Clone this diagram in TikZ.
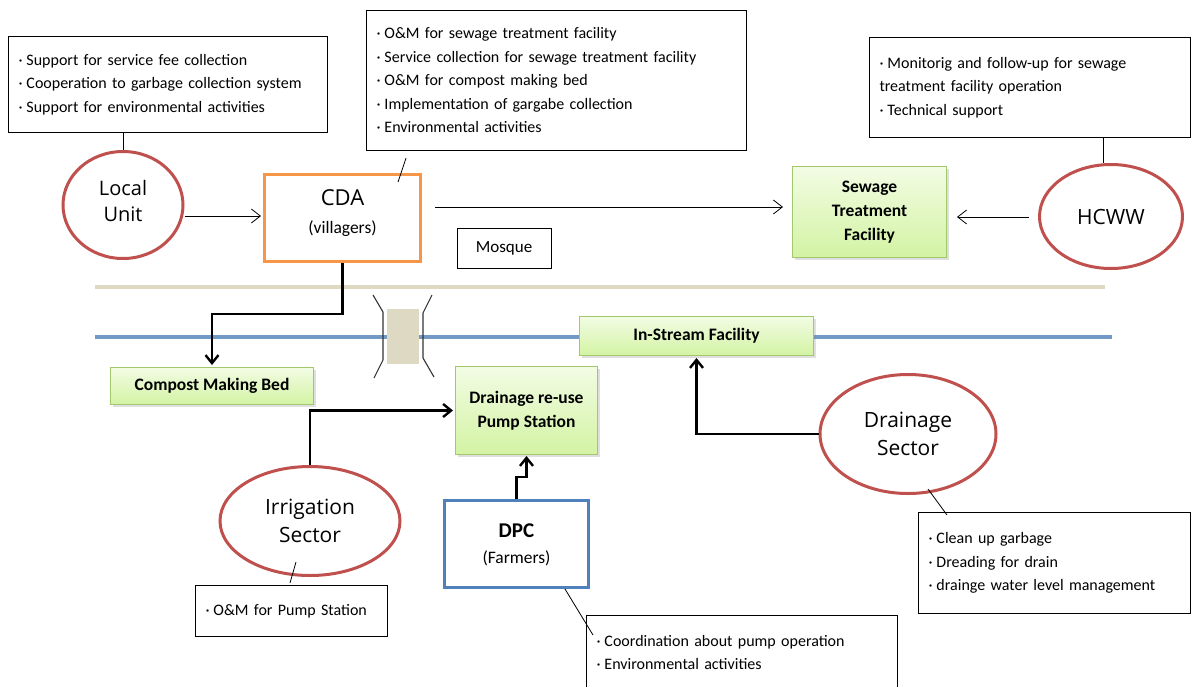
\documentclass[tikz,border=0pt]{standalone}
\usepackage{fontspec}
\setmainfont{Carlito}
\newfontfamily\ellfont{Open Sans}
\usetikzlibrary{arrows.meta,shapes.geometric,shadows,calc}
\definecolor{ellred}{HTML}{C0504D}
\definecolor{cdaor}{HTML}{F79646}
\definecolor{dpcblue}{HTML}{4F81BD}
\definecolor{rivblue}{HTML}{7399C6}
\definecolor{roadbeige}{HTML}{DDD9C3}
\definecolor{grtop}{HTML}{F2FCE4}
\definecolor{grbot}{HTML}{D3F3A3}
\definecolor{grborder}{HTML}{A3C76B}
\tikzset{
 note/.style={draw=black, line width=1pt, fill=white, rectangle, inner xsep=10pt, inner ysep=0pt, align=left, font=\fontsize{16}{23.5}\selectfont},
 actor/.style={ellipse, draw=ellred, line width=3pt, inner sep=0pt, align=center, font=\ellfont\fontsize{21}{28}\selectfont},
 facility/.style={rectangle, draw=grborder, line width=1pt, top color=grtop, bottom color=grbot, inner sep=0pt, align=center, font=\bfseries\fontsize{17.5}{24}\selectfont, drop shadow={shadow xshift=2pt, shadow yshift=-2pt, opacity=0.25}},
 thinarrow/.style={line width=0.8pt, -{Straight Barb[length=9pt,width=14pt]}},
 thickarrow/.style={line width=2.4pt, -{Straight Barb[length=8pt,width=13pt]}},
 link/.style={line width=0.8pt},
 road/.style={line width=4.5pt, roadbeige},
 river/.style={line width=4pt, rivblue},
 bridgeline/.style={line width=1.1pt, black!80},
}
\newcommand\bl{\makebox[8pt][l]{·}}
\begin{document}
\begin{tikzpicture}[x=1pt,y=-1pt]
\useasboundingbox (0,0) rectangle (1192,686);
\fill[white] (0,0) rectangle (1192,686);
% road and river
\coordinate (roadL) at (95,287);
\coordinate (roadR) at (1105,287);
\coordinate (rivL) at (95,337);
\coordinate (rivR) at (1112,337);
\draw[road] (roadL) -- (roadR);
\draw[river] (rivL) -- (rivR);
% bridge
\fill[roadbeige] (387,309) rectangle (419,364);
\draw[bridgeline] (373,295) -- (383,312) -- (383,360) -- (374,378);
\draw[bridgeline] (432,295) -- (423,313) -- (423,358) -- (434,377);

% notes
\node[note, anchor=north west, text width=299pt, minimum height=96pt] (lunote) at (8,36)
 {\bl Support for service fee collection\\ \bl Cooperation to garbage collection system\\ \bl Support for environmental activities};
\node[note, anchor=north west, text width=360pt, minimum height=140pt] (cdanote) at (366,10)
 {\bl O\&M for sewage treatment facility\\ \bl Service collection for sewage treatment facility\\ \bl O\&M for compost making bed\\ \bl Implementation of gargabe collection\\ \bl Environmental activities};
\node[note, anchor=north west, text width=301pt, minimum height=100pt] (hcwwnote) at (869,37)
 {\bl Monitorig and follow-up for sewage\\ treatment facility operation\\ \bl Technical support};
\node[note, anchor=north west, text width=252pt, minimum height=101pt] (drnnote) at (918,512)
 {\bl Clean up garbage\\ \bl Dreading for drain\\ \bl drainge water level management};
\node[note, anchor=north west, text width=172pt, minimum height=51pt] (irrnote) at (195,585)
 {\bl O\&M for Pump Station};
\node[note, anchor=north west, text width=291pt, minimum height=74pt] (dpcnote) at (586,615)
 {\bl Coordination about pump operation\\ \bl Environmental activities};
\node[note, inner xsep=0pt, minimum width=94pt, minimum height=40pt, align=center, font=\fontsize{17}{20}\selectfont] (mosque) at (504,248) {Mosque};

% actors
\node[actor, minimum width=120pt, minimum height=107pt] (lu) at (123,205) {};
\node[font=\ellfont\fontsize{20}{26}\selectfont, align=center, inner sep=0pt] (lulbl) at (123,201) {Local\\Unit};
\node[actor, minimum width=143pt, minimum height=104pt] (hcww) at (1111,216.5) {HCWW};
\node[actor, minimum width=180pt, minimum height=109pt] (irr) at (310,521) {Irrigation\\Sector};
\node[actor, minimum width=176pt, minimum height=119pt] (drn) at (908,434) {Drainage\\Sector};

% organisations
\node[rectangle, draw=cdaor, line width=3pt, minimum width=156pt, minimum height=87pt] (cda) at (342.5,218) {};
\node[align=center, inner sep=0pt, font=\fontsize{17.5}{28}\selectfont] (cdalbl) at (342.5,213)
 {{\ellfont\fontsize{22}{28}\selectfont CDA}\\(villagers)};
\node[rectangle, draw=dpcblue, line width=3pt, minimum width=144pt, minimum height=87pt] (dpc) at (516.5,544) {};
\node[align=center, inner sep=0pt, font=\fontsize{17.5}{26}\selectfont] (dpclbl) at (516.5,545)
 {{\bfseries\fontsize{21}{26}\selectfont DPC}\\(Farmers)};

% facilities
\node[facility, minimum width=154pt, minimum height=91pt] (sew) at (869.5,212) {Sewage\\Treatment\\Facility};
\node[facility, minimum width=234pt, minimum height=39pt] (ins) at (696.5,336) {In-Stream Facility};
\node[facility, minimum width=203pt, minimum height=37pt] (comp) at (212,386) {Compost Making Bed};
\node[facility, minimum width=142pt, minimum height=88pt] (pump) at (526.5,410.5) {Drainage re-use\\Pump Station};

% levels for horizontal arrows
\coordinate (y216) at (0,216);
\coordinate (y207) at (0,207);
\coordinate (y217) at (0,217);

% thin arrows
\draw[thinarrow, shorten >=2pt] (lu.east |- y216) -- (cda.west |- y216);
\draw[thinarrow, shorten <=13pt, shorten >=9pt] (cda.east |- y207) -- (sew.west |- y207);
\draw[thinarrow, shorten <=9.5pt, shorten >=10pt] (hcww.west |- y217) -- (sew.east |- y217);

% thick arrows
\draw[thickarrow, shorten >=2pt] (cda.south) -- ++(0,51) -| (comp.north);
\draw[thickarrow, shorten >=2pt] (irr.north) |- (pump.west);
\draw[thickarrow, shorten >=1pt] (dpc.north) -- ++(0,-22) -| (pump.south);
\draw[thickarrow, shorten >=2pt] (drn.west) -| (ins.south);

% note links
\draw[link] (lunote.south -| lu.north) -- (lu.north);
\draw[link] ($(cdanote.south west)+(40,7)$) -- ($(cda.north east)+(-24,9)$);
\draw[link] ($(hcww.north)+(-8,0)$) -- ($(hcwwnote.south west)+(234,0)$);
\draw[link] ($(irr.center)+(-14,41)$) -- ($(irrnote.north west)+(95,-2)$);
\draw[link] ($(dpc.south east)+(-25,0)$) -- ($(dpcnote.north west)+(7,20)$);
\draw[link] ($(drn.center)+(20,55)$) -- ($(drnnote.north west)+(29,3)$);
\end{tikzpicture}
\end{document}
